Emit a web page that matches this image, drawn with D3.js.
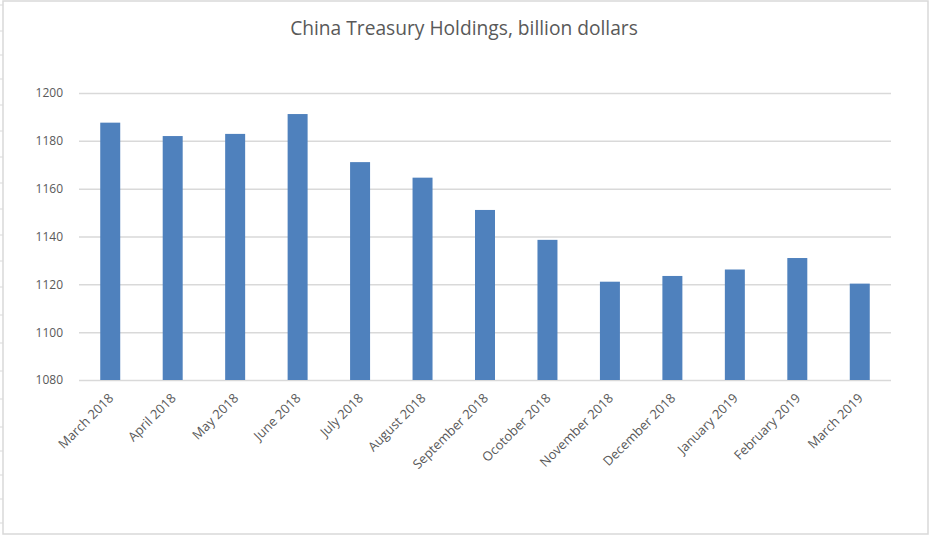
<!DOCTYPE html>
<html>
<head>
<meta charset="utf-8">
<script src="https://cdn.jsdelivr.net/npm/d3@7"></script>
<style>
  body { margin: 0; background: #fff; }
  svg { display: block; font-family: "Open Sans", sans-serif; }
</style>
</head>
<body>
<svg id="chart" width="930" height="536"></svg>
<script>
// data (billion dollars)
const months = [
  "March 2018", "April 2018", "May 2018", "June 2018", "July 2018",
  "August 2018", "September 2018", "Ocotober 2018", "November 2018",
  "December 2018", "January 2019", "February 2019", "March 2019"
];
const holdings = [1187.6, 1182.0, 1182.9, 1191.2, 1171.1, 1164.6, 1151.1,
  1138.6, 1121.1, 1123.5, 1126.2, 1131.0, 1120.3];
const yTicks = [1080, 1100, 1120, 1140, 1160, 1180, 1200];
// spreadsheet row lines peeking out on the left edge
const rowLines = [5, 31, 55, 79, 105, 131, 157, 183, 209, 235, 261, 287, 315,
  343, 371, 399, 427, 451, 475, 499, 523];

const svg = d3.select("#chart");
const margin = { top: 93, right: 39, bottom: 156, left: 79 };
const width = 930, height = 536;
const font = "'Open Sans', sans-serif";

//frame of the chart object
svg.append("g").selectAll("line")
  .data(rowLines)
  .join("line")
  .attr("x1", 0).attr("x2", 3)
  .attr("y1", d => d).attr("y2", d => d)
  .attr("stroke", "#d9d9d9").attr("stroke-width", 1);
svg.append("rect")
  .attr("x", 3).attr("y", 1)
  .attr("width", 925).attr("height", 533)
  .attr("fill", "#fff")
  .attr("stroke", "#d9d9d9").attr("stroke-width", 1.5);

const x = d3.scaleBand()
  .domain(months)
  .range([margin.left, width - margin.right])
  .paddingInner(0.68)
  .paddingOuter(0.34);

const y = d3.scaleLinear()
  .domain([1080, 1200])
  .range([height - margin.bottom, margin.top]);

// gridlines + y labels
const yAxis = svg.append("g")
  .attr("transform", `translate(${margin.left},0)`)
  .call(d3.axisLeft(y)
    .tickValues(yTicks)
    .tickSize(-(width - margin.left - margin.right))
    .tickPadding(16)
    .tickFormat(d3.format("d")))
  .attr("font-family", font)
  .attr("font-size", 12);
yAxis.select(".domain").remove();
yAxis.selectAll(".tick line").attr("stroke", "#d9d9d9").attr("stroke-width", 1.5);
yAxis.selectAll(".tick text").attr("fill", "#595959");

// bars
svg.append("g").selectAll("rect")
  .data(holdings)
  .join("rect")
  .attr("x", (d, i) => x(months[i]))
  .attr("y", d => y(d))
  .attr("width", x.bandwidth())
  .attr("height", d => y(1080) - y(d))
  .attr("fill", "#4f81bd");

// x labels, rotated
const xAxis = svg.append("g")
  .attr("transform", `translate(0,${height - margin.bottom})`)
  .call(d3.axisBottom(x).tickSize(0).tickPadding(0))
  .attr("font-family", font)
  .attr("font-size", 13);
xAxis.select(".domain").remove();
xAxis.selectAll(".tick text")
  .attr("fill", "#595959")
  .attr("text-anchor", "end")
  .attr("dy", null)
  .attr("y", null)
  .attr("transform", "translate(4,19) rotate(-45)");

// title
svg.append("text")
  .attr("x", 464)
  .attr("y", 35)
  .attr("text-anchor", "middle")
  .attr("fill", "#595959")
  .style("font-size", "19.2px")
  .text("China Treasury Holdings, billion dollars");
</script>
</body>
</html>
